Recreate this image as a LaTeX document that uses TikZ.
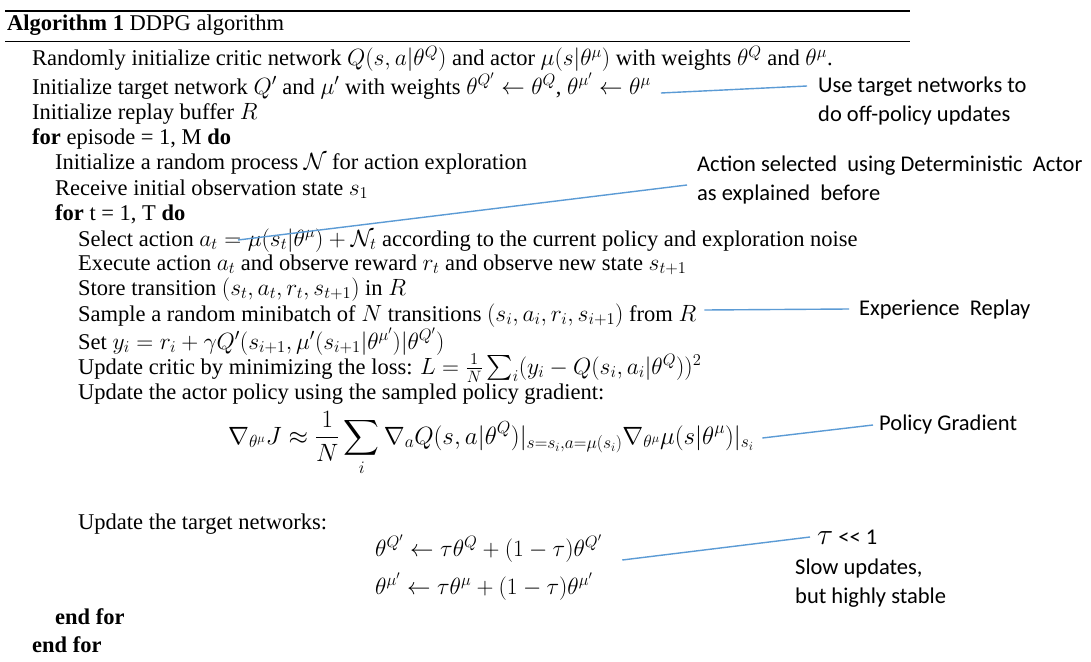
\RequirePackage{fix-cm}
\documentclass[tikz,border=0pt]{standalone}
\usepackage{amsmath}
\usepackage{fontspec}
\setmainfont{Liberation Serif}
\newfontfamily\annofont{Carlito}
\usetikzlibrary{calc}
\definecolor{calloutblue}{RGB}{91,155,213}
\DeclareMathSizes{22.5}{23.5}{16.5}{12}
\newcommand{\algfont}{\fontsize{22.5}{25}\selectfont}
\newcommand{\dispfont}{\fontsize{25}{28}\selectfont}
\begin{document}
\begin{tikzpicture}[x=1pt,y=-1pt,
  algline/.style={anchor=base west, inner sep=0pt, font=\algfont},
  note/.style={anchor=base west, inner sep=0pt, align=left, font=\annofont\fontsize{22.5}{29}\selectfont},
  callout/.style={draw=calloutblue, line width=1.4pt},
  rulethick/.style={line width=2.2pt},
  rulethin/.style={line width=0.9pt}]
\useasboundingbox[fill=white] (0,0) rectangle (1091,661);

% algorithm frame rules
\draw[rulethick] (5,11) -- (910,11);
\draw[rulethin] (5,41) -- (910,41);
\node[algline] (title) at (7,31) {\textbf{Algorithm 1} DDPG algorithm};

% algorithm body
\node[algline] (l1) at (32,66) {Randomly initialize critic network $Q(s,a|\theta^Q)$ and actor $\mu(s|\theta^\mu)$ with weights $\theta^Q$ and $\theta^\mu$.};
\node[algline] (l2) at (32,94) {Initialize target network $Q'$ and $\mu'$ with weights $\theta^{Q'}\leftarrow\theta^Q$, $\theta^{\mu'}\leftarrow\theta^\mu$};
\node[algline] (l3) at (32,119) {Initialize replay buffer $R$};
\node[algline] (l4) at (32,144) {\textbf{for} episode = 1, M \textbf{do}};
\node[algline] (l5) at (55,169) {Initialize a random process $\mathcal{N}$ for action exploration};
\node[algline] (l6) at (55,195) {Receive initial observation state $s_1$};
\node[algline] (l7) at (55,220) {\textbf{for} t = 1, T \textbf{do}};
\node[algline] (l8) at (78,246) {Select action $a_t=\mu(s_t|\theta^\mu)+\mathcal{N}_t$ according to the current policy and exploration noise};
\node[algline] (l9) at (78,270) {Execute action $a_t$ and observe reward $r_t$ and observe new state $s_{t+1}$};
\node[algline] (l10) at (78,295) {Store transition $(s_t,a_t,r_t,s_{t+1})$ in $R$};
\node[algline] (l11) at (78,321) {Sample a random minibatch of $N$ transitions $(s_i,a_i,r_i,s_{i+1})$ from $R$};
\node[algline] (l12) at (78,349) {Set $y_i=r_i+\gamma Q'(s_{i+1},\mu'(s_{i+1}|\theta^{\mu'})|\theta^{Q'})$};
\node[algline] (l13) at (78,374) {Update critic by minimizing the loss: $L=\frac{1}{N}\sum_i(y_i-Q(s_i,a_i|\theta^Q))^2$};
\node[algline] (l14) at (78,399) {Update the actor policy using the sampled policy gradient:};
\node[algline, font=\dispfont] (grad) at (228,444) {$\displaystyle \nabla_{\theta^\mu}J\approx\frac{1}{N}\sum_i\nabla_aQ(s,a|\theta^Q)|_{s=s_i,a=\mu(s_i)}\nabla_{\theta^\mu}\mu(s|\theta^\mu)|_{s_i}$};
\node[algline] (l15) at (78,529) {Update the target networks:};
\node[algline] (u1) at (375,556) {$\theta^{Q'}\leftarrow\tau\theta^Q+(1-\tau)\theta^{Q'}$};
\node[algline] (u2) at (375,594) {$\theta^{\mu'}\leftarrow\tau\theta^\mu+(1-\tau)\theta^{\mu'}$};
\node[algline] (e1) at (55,624) {\textbf{end for}};
\node[algline] (e2) at (32,652) {\textbf{end for}};

% annotations (base anchor = last line)
\node[note] (n1) at (818,121) {Use target networks to\\do off-policy updates};
\node[note] (n2) at (697,200) {Action selected\ \ using Deterministic\ \ Actor\\as explained\ \ before};
\node[note] (n3) at (859,315) {Experience\ \ Replay};
\node[note] (n4) at (879,430) {Policy Gradient};
\node[note] (n5) at (817,544) {{\fontsize{30}{30}\selectfont$\tau$} {<}{<} 1};
\node[note] (n6) at (795,603) {Slow updates,\\but highly stable};

% callout start points, just after the line they comment on
\coordinate (c1) at ($(l2.base east)+(10,-1)$);
\coordinate (c2) at (238,240);
\coordinate (c3) at ($(l11.base east)+(8,-11)$);
\coordinate (c4) at ($(grad.base east)+(8,-6)$);
\coordinate (c5) at ($(u1.base east)+(20,4)$);

\draw[callout] (c1) -- ($(n1.base west)+(-11,-35)$);
\draw[callout] (c2) -- ($(n2.base west)+(-10,-15)$);
\draw[callout] (c3) -- ($(n3.base west)+(-10,-6)$);
\draw[callout] (c4) -- ($(n4.base west)+(-6,-5)$);
\draw[callout] (c5) -- ($(n5.base west)+(-7,-7)$);
\end{tikzpicture}
\end{document}
